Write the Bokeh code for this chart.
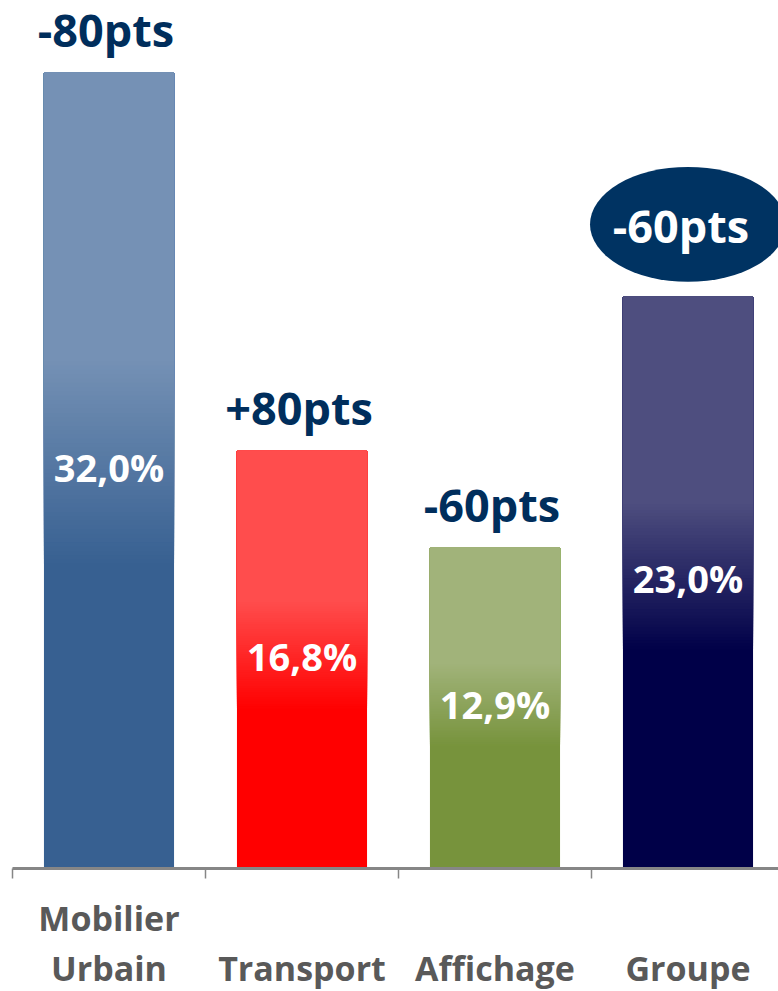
from bokeh.plotting import figure
from bokeh.models import ColumnDataSource, Range1d, FixedTicker
from bokeh.core.properties import value
from bokeh.embed import file_html
from bokeh.resources import INLINE

# ---- data ----
categories = ["Mobilier\nUrbain", "Transport", "Affichage", "Groupe"]
shares = [32.0, 16.8, 12.9, 23.0]
share_labels = ["32,0%", "16,8%", "12,9%", "23,0%"]
delta_labels = ["-80pts", "+80pts", "-60pts", "-60pts"]
highlighted = [False, False, False, True]
top_colors = ["#7591B5", "#FF4D4D", "#A1B37A", "#4E4E7F"]
bottom_colors = ["#376091", "#FF0000", "#77933C", "#000048"]

# ---- style ----
FRAME_W, FRAME_H = 766, 868
PX_PER_UNIT = 24.875
Y_MAX = FRAME_H / PX_PER_UNIT
CAT_PX = 193
X_MAX = FRAME_W / CAT_PX
HALF_BAR = 0.337
GRAD_START, GRAD_END = 0.36, 0.62   # fraction of bar height from the top
STEPS = 48
TEXT_BLUE = "#002E5C"
FONT = "Open Sans"


def hex2rgb(h):
    h = h.lstrip("#")
    return tuple(int(h[i:i + 2], 16) for i in (0, 2, 4))


def mix(c1, c2, t):
    a, b = hex2rgb(c1), hex2rgb(c2)
    return "#%02x%02x%02x" % tuple(round(a[k] + (b[k] - a[k]) * t) for k in range(3))


# gradient built as overlapping layers (bottom colour first, lighter layers above)
L, R, B, T, C = [], [], [], [], []
for i, (v, ct, cb) in enumerate(zip(shares, top_colors, bottom_colors)):
    cx = i + 0.5
    y_lo = v * (1 - GRAD_END)
    y_hi = v * (1 - GRAD_START)
    L.append(cx - HALF_BAR); R.append(cx + HALF_BAR); B.append(0); T.append(v); C.append(cb)
    for k in range(1, STEPS + 1):
        t = k / STEPS
        y0 = y_lo + (y_hi - y_lo) * (k - 0.5) / STEPS
        L.append(cx - HALF_BAR); R.append(cx + HALF_BAR); B.append(y0); T.append(v)
        C.append(mix(cb, ct, t))

bars = ColumnDataSource(dict(left=L, right=R, bottom=B, top=T, color=C))

xs = [i + 0.5 for i in range(len(shares))]
labels_src = ColumnDataSource(dict(x=xs, y=[v / 2 for v in shares], text=share_labels))

plain_idx = [i for i, h in enumerate(highlighted) if not h]
hi_idx = [i for i, h in enumerate(highlighted) if h]
delta_src = ColumnDataSource(dict(x=[xs[i] for i in plain_idx],
                                  y=[shares[i] for i in plain_idx],
                                  text=[delta_labels[i] for i in plain_idx]))
hi_src = ColumnDataSource(dict(x=[xs[i] for i in hi_idx],
                               y=[shares[i] for i in hi_idx],
                               ye=[shares[i] + 72 / PX_PER_UNIT for i in hi_idx],
                               text=[delta_labels[i] for i in hi_idx]))

p = figure(frame_width=FRAME_W, frame_height=FRAME_H, output_backend="svg",
           toolbar_location=None,
           x_range=Range1d(0, X_MAX), y_range=Range1d(0, Y_MAX),
           y_axis_location=None, min_border_left=12, min_border_right=0,
           min_border_top=0, min_border_bottom=100)
p.outline_line_color = None
p.grid.visible = False
p.background_fill_color = "white"

p.quad(left="left", right="right", bottom="bottom", top="top", source=bars,
       fill_color="color", line_color=None)

p.text(x="x", y="y", text="text", source=labels_src, text_color="white",
       text_font=value(FONT), text_font_style="bold", text_font_size="38px",
       text_align="center", text_baseline="middle", y_offset=-4)

p.text(x="x", y="y", text="text", source=delta_src, text_color=TEXT_BLUE,
       text_font=value(FONT), text_font_style="bold", text_font_size="45px",
       text_align="center", text_baseline="alphabetic", y_offset=-43, x_offset=-3)

p.ellipse(x="x", y="ye", width=196, height=115, width_units="screen",
          height_units="screen", source=hi_src, fill_color="#003362", line_color=None)
p.text(x="x", y="y", text="text", source=hi_src, text_color="white",
       text_font=value(FONT), text_font_style="bold", text_font_size="45px",
       text_align="center", text_baseline="alphabetic", y_offset=-71, x_offset=-7)

ax = p.xaxis[0]
ax.ticker = FixedTicker(ticks=xs, minor_ticks=list(range(len(shares))))
ax.major_label_overrides = {x: (c if "\n" in c else "\n" + c) for x, c in zip(xs, categories)}
ax.axis_line_color = "#868686"
ax.axis_line_width = 3
ax.major_tick_out = 0
ax.major_tick_in = 0
ax.minor_tick_out = 10
ax.minor_tick_in = 0
ax.minor_tick_line_color = "#868686"
ax.minor_tick_line_width = 1.5
ax.major_label_standoff = 16
ax.major_label_text_font = FONT
ax.major_label_text_font_style = "bold"
ax.major_label_text_font_size = "34px"
ax.major_label_text_color = "#595959"
ax.major_label_text_line_height = 1.1

open("out.html", "w").write(file_html(p, INLINE))
